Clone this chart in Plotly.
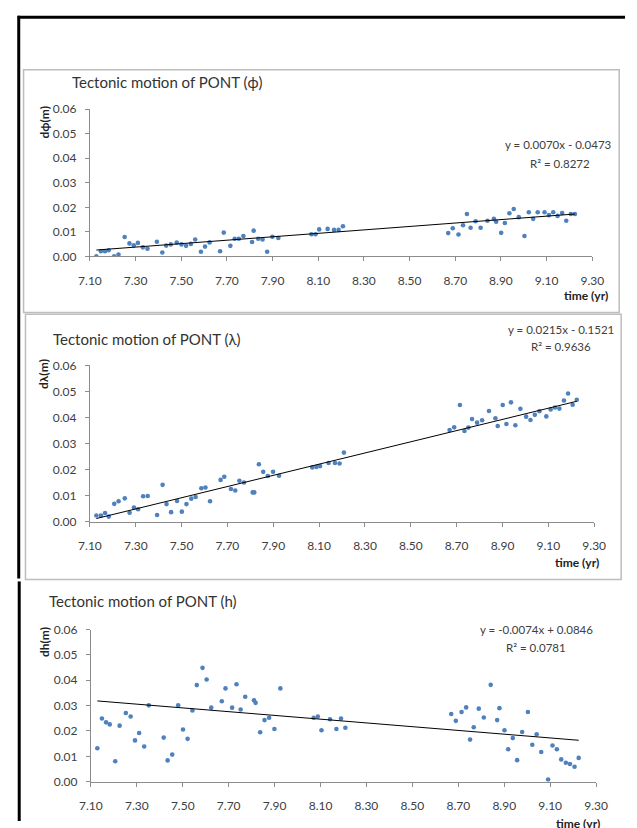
import plotly.graph_objects as go

W, H = 637, 828

# ---------------- data ----------------
time_yr = [7.128, 7.148, 7.166, 7.182, 7.206, 7.225, 7.252, 7.273, 7.292, 7.310,
           7.332, 7.352, 7.393, 7.417, 7.434, 7.454, 7.480, 7.501, 7.521, 7.542,
           7.561, 7.586, 7.604, 7.624, 7.670, 7.686, 7.715, 7.734, 7.752, 7.772,
           7.810, 7.817, 7.837, 7.856, 7.876, 7.899, 7.925,
           8.070, 8.088, 8.104, 8.141, 8.169, 8.189, 8.208,
           8.669, 8.689, 8.714, 8.734, 8.751, 8.767, 8.789, 8.811, 8.841, 8.869,
           8.879, 8.901, 8.917, 8.937, 8.956, 8.978, 9.003, 9.022, 9.041, 9.061,
           9.091, 9.110, 9.129, 9.148, 9.168, 9.186, 9.206, 9.224]

d_phi = [0.0000, 0.0021, 0.0021, 0.0025, 0.0000, 0.0008, 0.0079, 0.0053, 0.0045, 0.0055,
         0.0037, 0.0031, 0.0060, 0.0016, 0.0044, 0.0049, 0.0056, 0.0049, 0.0043, 0.0051,
         0.0069, 0.0019, 0.0040, 0.0057, 0.0021, 0.0097, 0.0043, 0.0072, 0.0072, 0.0083,
         0.0059, 0.0105, 0.0072, 0.0069, 0.0019, 0.0080, 0.0075,
         0.0090, 0.0090, 0.0110, 0.0112, 0.0108, 0.0108, 0.0123,
         0.0095, 0.0115, 0.0089, 0.0127, 0.0173, 0.0117, 0.0143, 0.0117, 0.0145, 0.0153,
         0.0141, 0.0096, 0.0136, 0.0176, 0.0193, 0.0160, 0.0083, 0.0180, 0.0153, 0.0180,
         0.0180, 0.0168, 0.0180, 0.0165, 0.0177, 0.0145, 0.0173, 0.0173]

d_lambda = [0.0023, 0.0023, 0.0033, 0.0019, 0.0068, 0.0078, 0.0089, 0.0034, 0.0054, 0.0047,
            0.0097, 0.0098, 0.0025, 0.0141, 0.0067, 0.0036, 0.0079, 0.0038, 0.0067, 0.0088,
            0.0094, 0.0128, 0.0131, 0.0078, 0.0160, 0.0172, 0.0125, 0.0119, 0.0157, 0.0150,
            0.0112, 0.0112, 0.0220, 0.0191, 0.0175, 0.0191, 0.0176,
            0.0208, 0.0210, 0.0213, 0.0225, 0.0225, 0.0223, 0.0265,
            0.0352, 0.0362, 0.0448, 0.0348, 0.0361, 0.0394, 0.0380, 0.0389, 0.0425, 0.0397,
            0.0367, 0.0448, 0.0375, 0.0458, 0.0370, 0.0433, 0.0403, 0.0390, 0.0410, 0.0424,
            0.0404, 0.0431, 0.0438, 0.0434, 0.0465, 0.0492, 0.0449, 0.0468]

d_h = [0.0132, 0.0249, 0.0234, 0.0226, 0.0081, 0.0221, 0.0271, 0.0257, 0.0163, 0.0192,
       0.0139, 0.0301, None, 0.0174, 0.0084, 0.0107, 0.0301, 0.0206, 0.0169, 0.0281,
       0.0381, 0.0449, 0.0403, 0.0292, 0.0317, 0.0368, 0.0292, 0.0384, 0.0285, 0.0335,
       0.0321, 0.0311, 0.0195, 0.0243, 0.0252, 0.0208, 0.0368,
       0.0252, 0.0257, 0.0203, 0.0246, 0.0208, 0.0249, 0.0213,
       0.0267, 0.0240, 0.0275, 0.0293, 0.0166, 0.0215, 0.0288, 0.0253, 0.0382, 0.0243,
       0.0290, 0.0203, 0.0128, 0.0172, 0.0085, 0.0196, 0.0275, 0.0146, 0.0187, 0.0117,
       0.0009, 0.0143, 0.0128, 0.0088, 0.0075, 0.0070, 0.0059, 0.0094]

titles = ["Tectonic motion of PONT (ϕ)", "Tectonic motion of PONT (λ)", "Tectonic motion of PONT (h)"]
y_titles = ["dϕ(m)", "dλ(m)", "dh(m)"]
slopes = [0.0070, 0.0215, -0.0074]
intercepts = [-0.0473, -0.1521, 0.0846]
eq_text = ["y = 0.0070x - 0.0473", "y = 0.0215x - 0.1521", "y = -0.0074x + 0.0846"]
r2_text = ["R² = 0.8272", "R² = 0.9636", "R² = 0.0781"]
x_ticks = [7.10, 7.30, 7.50, 7.70, 7.90, 8.10, 8.30, 8.50, 8.70, 8.90, 9.10, 9.30]
y_ticks = [0.00, 0.01, 0.02, 0.03, 0.04, 0.05, 0.06]
series = [d_phi, d_lambda, d_h]

# ---------------- layout geometry (pixels) ----------------
FONT = "Lato"
def fx(px): return px / W
def fy(py): return 1 - py / H

panels = [
    dict(x0=81, x1=603, ytop=103, ybot=253, title=(60, 75), ytitle=(34, 116),
         eq=(568, 139), r2=(569, 158), xlab=(596, 293)),
    dict(x0=81, x1=605, ytop=364, ybot=523, title=(41, 337), ytitle=(32, 373),
         eq=(570, 327), r2=(570, 345), xlab=(587, 565)),
    dict(x0=82, x1=607, ytop=633, ybot=788, title=(36, 604), ytitle=(34, 646),
         eq=(545, 633), r2=(545, 651), xlab=(588, 831)),
]

fig = go.Figure()
annotations = []
AX = "#8c8c8c"
TXT = "#404040"

for i, p in enumerate(panels):
    n = "" if i == 0 else str(i + 1)
    xa, ya = "x" + n, "y" + n
    ys = series[i]
    fig.add_trace(go.Scatter(x=time_yr, y=ys, mode="markers", xaxis=xa, yaxis=ya,
                             marker=dict(color="#4F81BD", size=4.6), showlegend=False))
    tx = [time_yr[0], time_yr[-1]]
    fig.add_trace(go.Scatter(x=tx, y=[slopes[i] * t + intercepts[i] for t in tx],
                             mode="lines", xaxis=xa, yaxis=ya,
                             line=dict(color="black", width=1), showlegend=False))
    axis_common = dict(showgrid=False, zeroline=False, showline=True, linecolor=AX,
                       linewidth=1, ticks="outside", ticklen=4, tickcolor=AX,
                       tickfont=dict(family=FONT, size=12, color=TXT))
    fig.update_layout(**{
        ("xaxis" + n): dict(domain=[fx(p["x0"]), fx(p["x1"])], range=[7.1, 9.3],
                            tickvals=x_ticks, tickformat=".2f", anchor=ya,
                            ticklabelstandoff=9, **axis_common),
        ("yaxis" + n): dict(domain=[fy(p["ybot"]), fy(p["ytop"])], range=[0, 0.06],
                            tickvals=y_ticks, tickformat=".2f", anchor=xa,
                            ticklabelstandoff=6, **axis_common),
    })
    annotations += [
        dict(text=titles[i], x=fx(p["title"][0]), y=fy(p["title"][1]), xref="paper", yref="paper",
             xanchor="left", yanchor="middle", showarrow=False,
             font=dict(family=FONT, size=15, color="#333333")),
        dict(text="<b>" + y_titles[i] + "</b>", x=fx(p["ytitle"][0]), y=fy(p["ytitle"][1]),
             xref="paper", yref="paper", xanchor="center", yanchor="middle", textangle=-90,
             showarrow=False, font=dict(family=FONT, size=12, color="#222222")),
        dict(text=eq_text[i], x=fx(p["eq"][0]), y=fy(p["eq"][1]), xref="paper", yref="paper",
             xanchor="center", yanchor="middle", showarrow=False,
             font=dict(family=FONT, size=11.5, color=TXT)),
        dict(text=r2_text[i], x=fx(p["r2"][0]), y=fy(p["r2"][1]), xref="paper", yref="paper",
             xanchor="center", yanchor="middle", showarrow=False,
             font=dict(family=FONT, size=11.5, color=TXT)),
        dict(text="<b>time (yr)</b>", x=fx(p["xlab"][0]), y=fy(p["xlab"][1]), xref="paper",
             yref="paper", xanchor="center", yanchor="middle", showarrow=False,
             font=dict(family=FONT, size=12, color="#222222")),
    ]

shapes = [
    dict(type="rect", xref="paper", yref="paper", x0=fx(12), x1=fx(631), y0=fy(310), y1=fy(63),
         line=dict(color="#bdbdbd", width=1.5)),
    dict(type="rect", xref="paper", yref="paper", x0=fx(14), x1=fx(633), y0=fy(582), y1=fy(312),
         line=dict(color="#bdbdbd", width=1.5)),
    dict(type="line", xref="paper", yref="paper", x0=fx(6), x1=1, y0=fy(9.5), y1=fy(9.5),
         line=dict(color="black", width=3)),
    dict(type="line", xref="paper", yref="paper", x0=fx(7), x1=fx(7), y0=fy(8), y1=fy(581),
         line=dict(color="black", width=3)),
    dict(type="line", xref="paper", yref="paper", x0=fx(7.5), x1=fx(7.5), y0=fy(584), y1=0,
         line=dict(color="black", width=3)),
]

fig.update_layout(width=W, height=H, autosize=False,
                  margin=dict(l=0, r=0, t=0, b=0),
                  paper_bgcolor="white", plot_bgcolor="white",
                  annotations=annotations, shapes=shapes, showlegend=False)

fig.write_html("out.html")
